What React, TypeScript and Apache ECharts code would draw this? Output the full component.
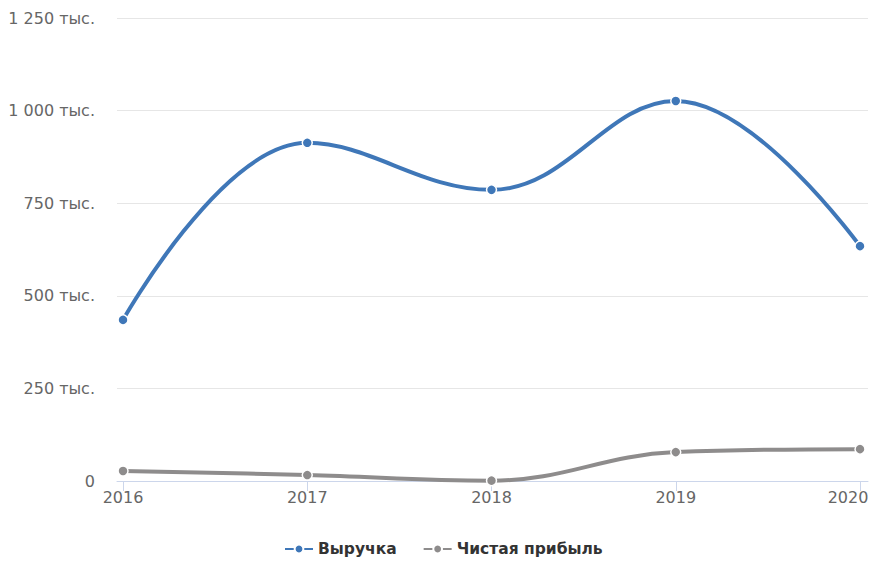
import React, { useEffect, useRef } from "react";
import * as echarts from "echarts";

const years = ["2016", "2017", "2018", "2019", "2020"];
const revenue = [435, 913, 786, 1026, 634];
const netProfit = [27, 16, 1, 78, 86];
const seriesNames = ["Выручка", "Чистая прибыль"];

const fmt = (v: number) => {
  if (v === 0) return "0";
  const s = String(v).replace(/\B(?=(\d{3})+(?!\d))/g, " ");
  return s + " тыс.";
};

export default function App() {
  const ref = useRef<HTMLDivElement>(null);
  useEffect(() => {
    const chart = echarts.init(ref.current!, null, { renderer: "svg" });
    const font = "DejaVu Sans";
    const idx = years.map((_, i) => i);
    const lastIdx = years.length - 1;
    chart.setOption({
      animation: false,
      grid: { left: 117, right: 2, top: 18, bottom: 81, outerBoundsMode: "none" },
      legend: {
        bottom: 0,
        left: 279,
        itemGap: 26,
        itemWidth: 28,
        itemHeight: 11,
        itemStyle: { borderColor: "#ffffff", borderWidth: 2 },
        textStyle: { fontFamily: font, fontSize: 15.5, fontWeight: "bold", color: "#333333" },
        data: seriesNames,
      },
      xAxis: {
        type: "value",
        min: -0.0326,
        max: lastIdx + 0.0434,
        axisLine: { show: true, onZero: false, lineStyle: { color: "#ccd6eb", width: 1 } },
        axisTick: { show: true, customValues: idx, length: 10, lineStyle: { color: "#ccd6eb" } },
        axisLabel: {
          customValues: idx,
          fontFamily: font,
          fontSize: 16,
          color: "#666666",
          margin: 8,
          formatter: (v: number) => {
            const i = Math.round(v);
            return i === lastIdx ? "{e|" + years[i] + "}" : years[i];
          },
          rich: {
            e: { fontFamily: font, fontSize: 16, color: "#666666", padding: [0, 24, 0, 0] },
          },
        },
        splitLine: { show: false },
      },
      yAxis: {
        type: "value",
        min: 0,
        max: 1250,
        interval: 250,
        axisLine: { show: false },
        axisTick: { show: false },
        axisLabel: { fontFamily: font, fontSize: 16, color: "#666666", margin: 22, formatter: fmt },
        splitLine: { lineStyle: { color: "#e6e6e6", width: 1 } },
      },
      series: [
        {
          name: seriesNames[0],
          type: "line",
          data: revenue.map((v, i) => [i, v]),
          smooth: 0.4,
          symbol: "circle",
          symbolSize: 10,
          lineStyle: { width: 4, color: "#3f77b8" },
          itemStyle: { color: "#3f77b8", borderColor: "#ffffff", borderWidth: 1.5 },
        },
        {
          name: seriesNames[1],
          type: "line",
          data: netProfit.map((v, i) => [i, v]),
          smooth: 0.4,
          symbol: "circle",
          symbolSize: 10,
          lineStyle: { width: 4, color: "#8e8c8c" },
          itemStyle: { color: "#8e8c8c", borderColor: "#ffffff", borderWidth: 1.5 },
        },
      ],
    });
    return () => chart.dispose();
  }, []);
  return <div ref={ref} style={{ width: 870, height: 562, position: "absolute", left: 0, top: 0 }} />;
}
